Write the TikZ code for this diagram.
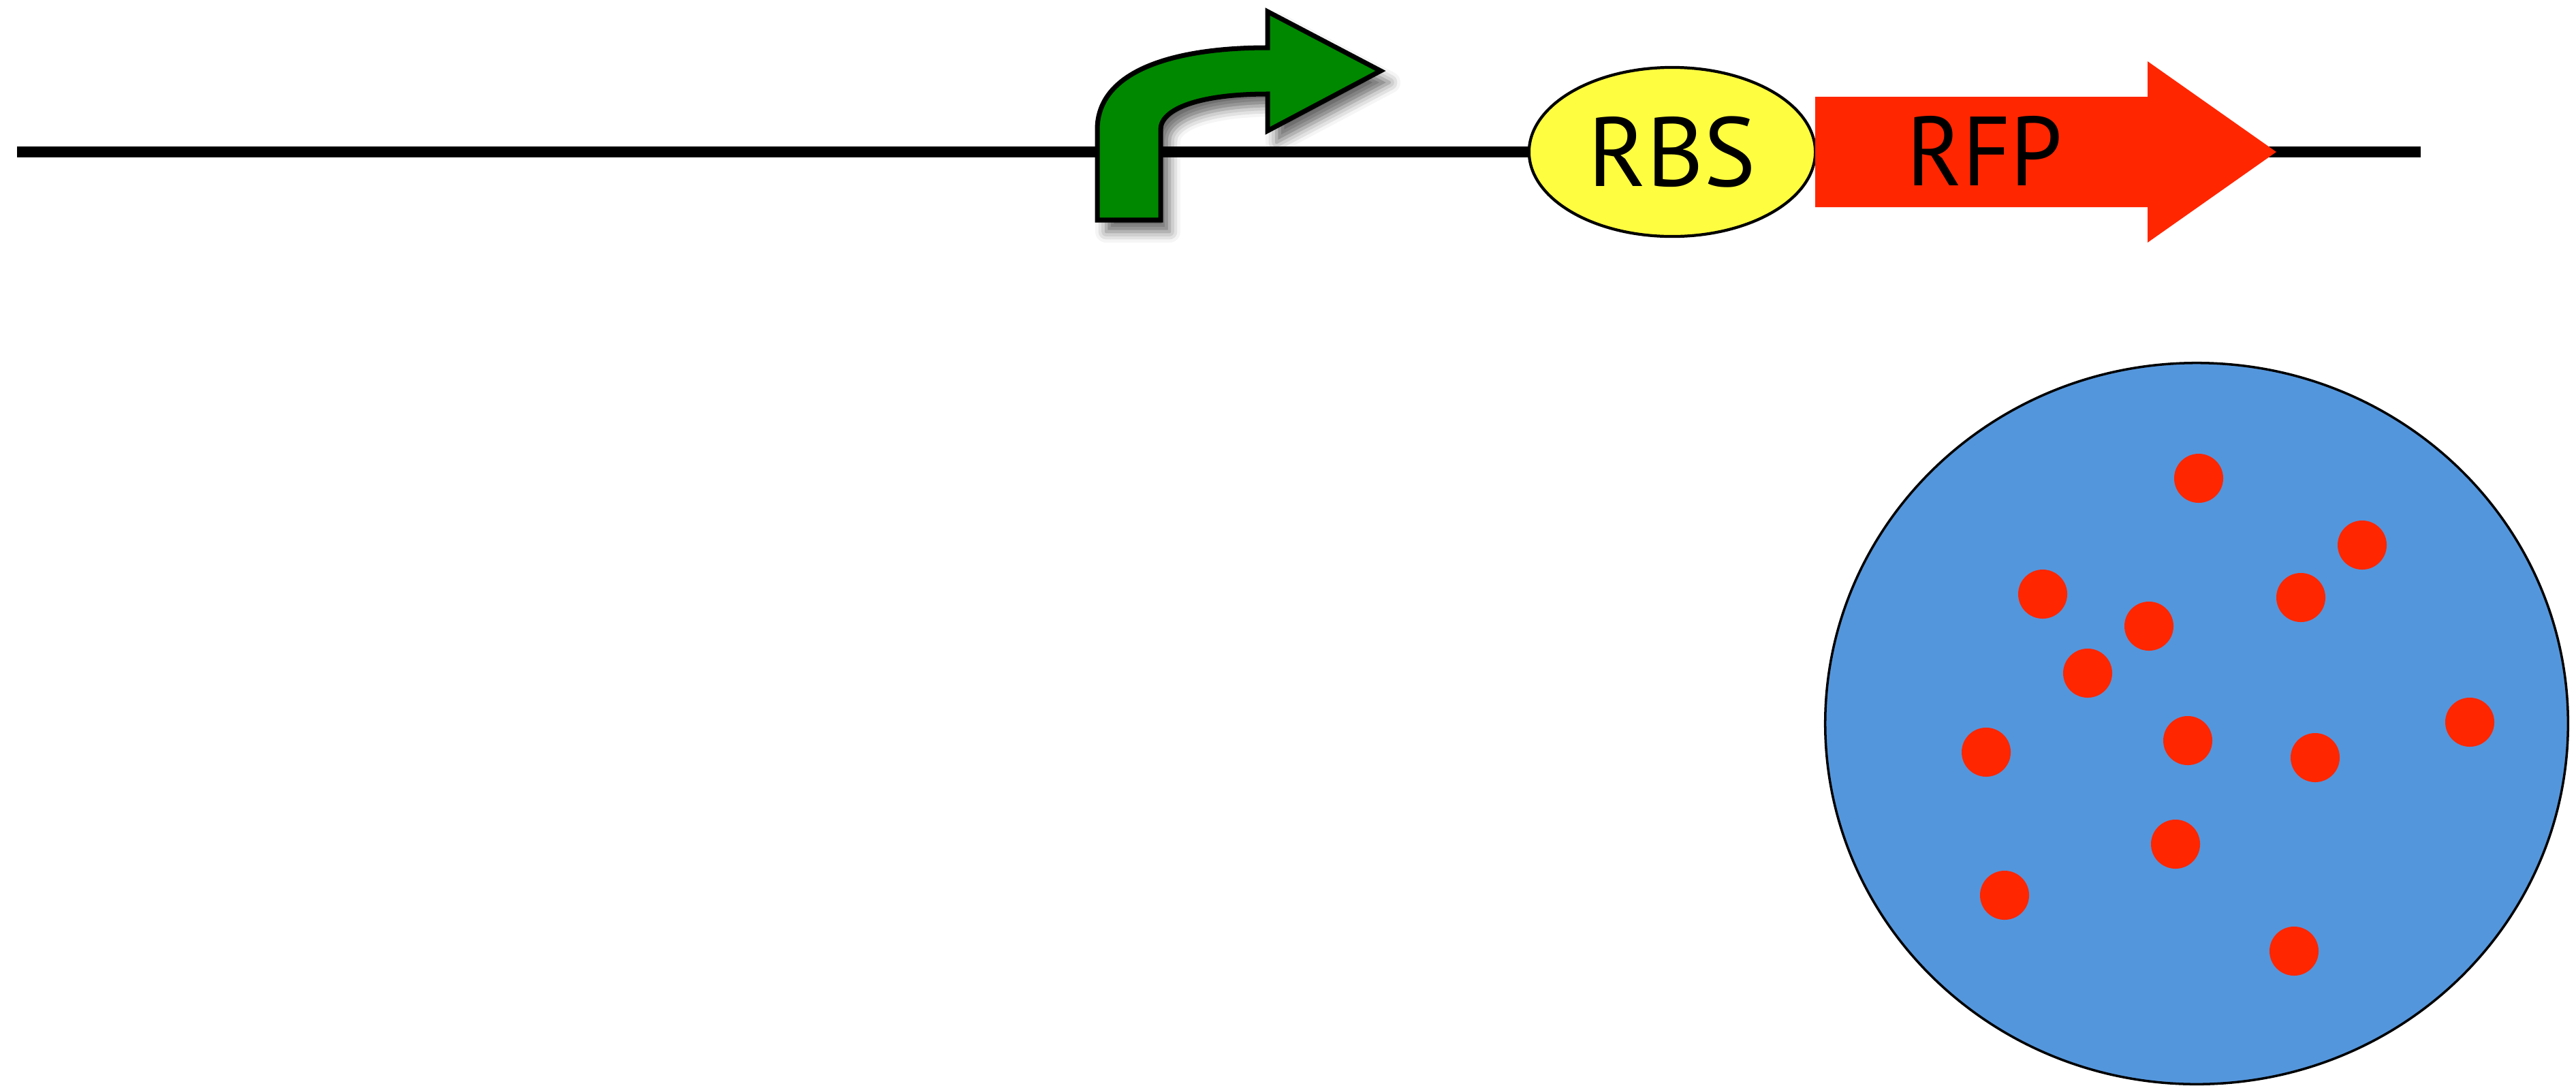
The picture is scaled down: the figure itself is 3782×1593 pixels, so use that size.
\documentclass[tikz,border=0pt]{standalone}
\usepackage{fontspec}
\setmainfont{PT Sans}
\usepackage{xcolor}
\usetikzlibrary{shapes.geometric,shadows.blur}

\definecolor{promgreen}{RGB}{0,136,0}
\definecolor{rbsyellow}{RGB}{255,253,64}
\definecolor{rfpred}{RGB}{255,38,0}
\definecolor{cellblue}{RGB}{84,150,220}

\begin{document}
\begin{tikzpicture}[x=0.01cm,y=-0.01cm,
  label/.style={font=\fontsize{41}{41}\selectfont,inner sep=0pt},
  promoter/.style={draw=black,line width=2pt,fill=promgreen,line join=miter,
    blur shadow={shadow xshift=1.3mm,shadow yshift=-1.7mm,shadow blur radius=1.6mm,shadow opacity=60}},
  rbs/.style={label,ellipse,draw=black,line width=1.2pt,fill=rbsyellow,minimum width=4.2cm,minimum height=2.48cm},
  cds/.style={fill=rfpred},
  cell/.style={ellipse,draw=black,line width=1pt,fill=cellblue,minimum width=10.9cm,minimum height=10.58cm,inner sep=0pt},
  protein/.style={circle,fill=rfpred,minimum size=7.2mm,inner sep=0pt}]
\useasboundingbox (0,0) rectangle (3782,1593);

% DNA backbone
\coordinate (dnaL) at (25,223);
\coordinate (dnaR) at (3554,223);
\draw[line width=4.55pt] (dnaL) -- (dnaR);

% promoter
\path[promoter] (1611,323) -- (1611,190)
  .. controls (1611,105) and (1720,70) .. (1861,70)
  -- (1861,17) -- (2027,104) -- (1861,192) -- (1861,138)
  .. controls (1760,138) and (1704,160) .. (1704,190)
  -- (1704,323) -- cycle;

% RBS
\node[rbs] (rbs) at (2455,223) {RBS};

% RFP coding sequence
\path[cds] (2665,142) -- (3153,142) -- (3153,90) -- (3342,223)
  -- (3153,356) -- (3153,304) -- (2665,304) -- cycle;
\node[label,xscale=0.95] (rfp) at (2914,221) {RFP};

% cell with RFP
\node[cell] (cell) at (3225,1062) {};
\foreach \px/\py [count=\i] in {3228/702,3468/800,2999/872,3378/877,3155/919,
    3065/988,3626/1060,2916/1104,3212/1087,3399/1112,3194/1239,2943/1314,3368/1396}
  \node[protein] (p\i) at (\px,\py) {};
\end{tikzpicture}
\end{document}
